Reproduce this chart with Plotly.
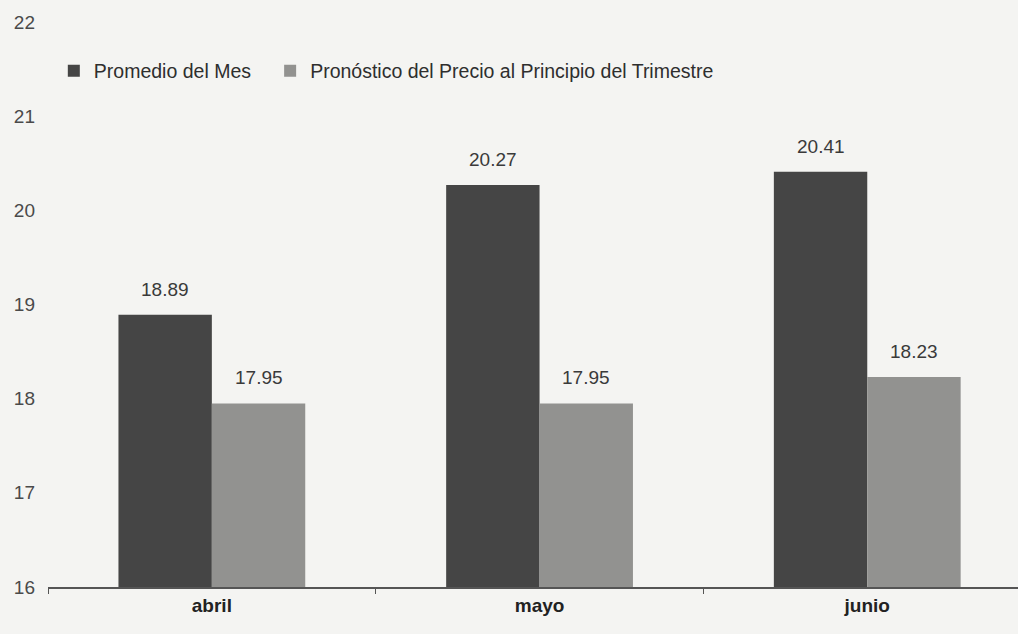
import plotly.graph_objects as go

# ── Data ─────────────────────────────────────────────────────────────────────

MONTHS = ["abril", "mayo", "junio"]
PROMEDIO_MES = [18.89, 20.27, 20.41]
PRONOSTICO = [17.95, 17.95, 18.23]
Y_TICKS = [16, 17, 18, 19, 20, 21, 22]

PAPER = "#f4f4f2"
DARK = "#454545"
LIGHT = "#929290"
TEXT = "#3a3a3a"
FONT = "Liberation Sans, Arial, sans-serif"

# ── Geometry ─────────────────────────────────────────────────────────────────

WIDTH, HEIGHT = 1018, 634
MARGIN_L = 48
X_RANGE = [-0.5, 2.46]
BARGAP = 0.43
px_per_cat = (WIDTH - MARGIN_L) / (X_RANGE[1] - X_RANGE[0])
bar_shift = (1 - BARGAP) / 4 * px_per_cat  # half of one bar width

fig = go.Figure()
fig.add_trace(
    go.Bar(
        x=MONTHS,
        y=PROMEDIO_MES,
        name="Promedio del Mes",
        marker=dict(color=DARK, line=dict(width=0)),
        legend="legend",
    )
)
fig.add_trace(
    go.Bar(
        x=MONTHS,
        y=PRONOSTICO,
        name="Pronóstico del Precio al Principio del Trimestre",
        marker=dict(color=LIGHT, line=dict(width=0)),
        legend="legend2",
    )
)

# value labels above each bar
for vals, shift in ((PROMEDIO_MES, -bar_shift), (PRONOSTICO, bar_shift)):
    for m, v in zip(MONTHS, vals):
        fig.add_annotation(
            x=m,
            y=v,
            xref="x",
            yref="y",
            text=f"{v:.2f}",
            showarrow=False,
            xshift=shift,
            yshift=13,
            yanchor="bottom",
            font=dict(size=19, color=TEXT, family=FONT),
        )

legend_common = dict(
    orientation="h",
    y=0.913,
    xanchor="left",
    yanchor="middle",
    bgcolor="rgba(0,0,0,0)",
    font=dict(size=19.5, color="#2e2e2e", family=FONT),
    itemwidth=30,
)

fig.update_layout(
    width=WIDTH,
    height=HEIGHT,
    margin=dict(l=MARGIN_L, r=0, t=22, b=47),
    paper_bgcolor=PAPER,
    plot_bgcolor=PAPER,
    font=dict(family=FONT, color=TEXT, size=19),
    barmode="group",
    bargap=BARGAP,
    bargroupgap=0,
    showlegend=True,
    legend=dict(x=0.006, **legend_common),
    legend2=dict(x=0.229, **legend_common),
    xaxis=dict(
        range=X_RANGE,
        showgrid=False,
        showline=True,
        linecolor="#555",
        linewidth=1.5,
        ticks="outside",
        tickson="boundaries",
        ticklen=5,
        tickcolor="#555",
        tickfont=dict(size=19, color="#222", family=FONT, weight="bold"),
    ),
    yaxis=dict(
        range=[16, 22],
        tickvals=Y_TICKS,
        showgrid=False,
        showline=False,
        zeroline=False,
        ticks="",
        ticklabelstandoff=12,
        tickfont=dict(size=19, color="#4a4a4a", family=FONT),
    ),
)

fig.write_html(
    "out.html",
    config={"displayModeBar": False},
    post_script="document.body.style.margin='0';",
)
